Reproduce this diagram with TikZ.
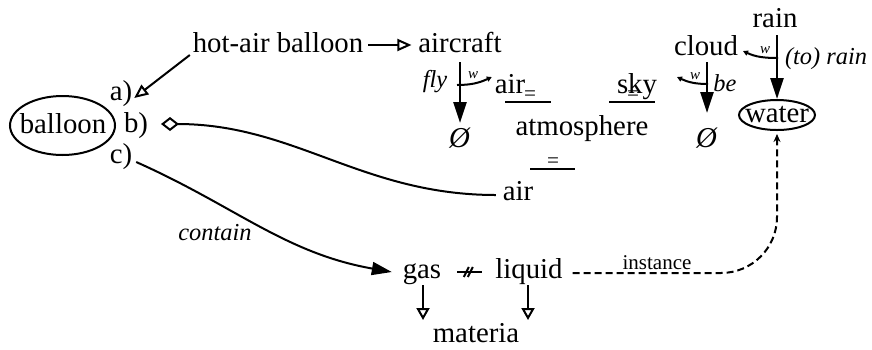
\documentclass[tikz,border=0pt]{standalone}
\usepackage{fontspec}
\setmainfont{Liberation Serif}
\usetikzlibrary{arrows.meta,calc,shapes.geometric}
\begin{document}
\begin{tikzpicture}[x=0.5pt,y=-0.5pt, line width=1pt,
  lbl/.style={font=\fontsize{14.4}{16}\selectfont, inner sep=0pt, anchor=base},
  ital/.style={font=\fontsize{12.2}{14}\selectfont\itshape, inner sep=0pt, anchor=base},
  wlbl/.style={font=\fontsize{7.5}{9}\selectfont\itshape, inner sep=0pt, anchor=base},
  eqlbl/.style={font=\fontsize{10.6}{12}\selectfont, inner sep=0pt, anchor=base},
  smalltxt/.style={font=\fontsize{10.5}{12}\selectfont, inner sep=0pt, anchor=base},
  ring/.style={draw, ellipse, inner sep=0pt},
  openhead/.style={-{Triangle[open,length=7pt,width=6pt]}},
  openheaddown/.style={-{Triangle[open,length=6pt,width=6.5pt]}},
  bighead/.style={line width=1.3pt, -{Triangle[length=10.5pt,width=6.5pt]}},
  smallhead/.style={-{Triangle[length=2.5pt,width=2.6pt]}},
  dashline/.style={dash pattern=on 3.5pt off 2pt},
]
\useasboundingbox (0,0) rectangle (872,349);

% main terms
\node[lbl] (hab) at (278,52) {hot-air balloon};
\node[lbl] (aircraft) at (460,52) {aircraft};
\node[lbl] (a) at (121,100) {a)};
\node[lbl] (b) at (136,132) {b)};
\node[lbl] (c) at (121,163) {c)};
\node[lbl] (balloon) at (63,133) {balloon};
\node[ring, minimum width=52.5pt, minimum height=29.5pt] (balloonE) at ($(balloon.base)+(-0.5,-7.5)$) {};
\node[lbl] (airup) at (510,93) {air};
\node[lbl] (sky) at (637,93) {sky};
\node[lbl] (atm) at (582,135) {atmosphere};
\node[lbl] (airlow) at (518,200) {air};
\node[lbl] (emptyL) at (460,147) {\textit{Ø}};
\node[lbl] (emptyR) at (707,147) {\textit{Ø}};
\node[lbl] (cloud) at (706,55) {cloud};
\node[lbl] (rain) at (775,27) {rain};
\node[lbl] (water) at (777,122) {water};
\node[ring, minimum width=38pt, minimum height=15pt] (waterE) at ($(water.base)+(0,-7)$) {};
\node[lbl] (gas) at (422,278) {gas};
\node[lbl] (liquid) at (529,278) {liquid};
\node[lbl] (materia) at (476,342) {materia};

% labels
\node[ital] (fly) at (435,87) {fly};
\node[ital] (be) at (725,91) {be};
\node[ital] (torain) at (826,64) {(to) rain};
\node[ital] (contain) at (215,240) {contain};
\node[smalltxt] (inst) at (657,269) {instance};
\node[wlbl] (w1) at (473,78) {w};
\node[wlbl] (w2) at (695,79) {w};
\node[wlbl] (w3) at (765,53) {w};

% equality bars
\coordinate (e1a) at (505,102); \coordinate (e1b) at (551,102);
\coordinate (e2a) at (609,102); \coordinate (e2b) at (655,102);
\coordinate (e3a) at (530,169); \coordinate (e3b) at (575,169);
\draw (e1a) -- (e1b);
\draw (e2a) -- (e2b);
\draw (e3a) -- (e3b);
\node[eqlbl] (eq1) at (530,100) {=};
\node[eqlbl] (eq2) at (633,100) {=};
\node[eqlbl] (eq3) at (553,167) {=};

% connectors
\draw[openhead] ($(hab.base east)+(4,-7)$) -- ($(aircraft.base west)+(-6,-7)$);
\draw[openhead] ($(hab.base west)+(-2,3)$) -- ($(a.base east)+(1,-2)$);
\draw[{Diamond[open,length=9pt,width=7pt]}-] ($(b.base east)+(12,-8)$) to[out=0,in=180] ($(airlow.base west)+(-6,-5)$);
\draw[-{Triangle[length=10pt,width=6.5pt]}] ($(c.base east)+(3,-1)$) to[out=-24,in=170] ($(gas.base west)+(-10,-6)$);

\draw[bighead] ($(aircraft.base)+(0,10)$) -- ($(emptyL.base)+(0,-24)$);
\coordinate (h1) at (457,85);
\draw[smallhead] (h1) to[out=0,in=205] ($(airup.base west)+(-2,-16)$);

\draw[bighead] ($(cloud.base)+(1,7)$) -- ($(emptyR.base)+(0,-34)$);
\coordinate (h2) at (708,84);
\draw[smallhead] (h2) to[out=180,in=-25] ($(sky.base east)+(19,-16)$);

\draw[bighead] ($(rain.base)+(2,8)$) -- (waterE.north);
\coordinate (h3) at (778,58);
\draw[smallhead] (h3) to[out=180,in=-25] ($(cloud.base east)+(4,-4)$);

% gas / liquid
\draw ($(gas.base east)+(15,-6)$) -- coordinate (nm) ($(liquid.base west)+(-12,-6)$);
\draw ($(nm)+(-6,5)$) -- ($(nm)+(-1,-5)$) ($(nm)+(-2,5)$) -- ($(nm)+(3,-5)$);
\draw[openheaddown] ($(gas.base)+(1,7)$) -- ($(gas.base |- materia.base)+(1,-22)$);
\draw[openheaddown] ($(liquid.base)+(-1,7)$) -- ($(liquid.base |- materia.base)+(-1,-22)$);

\draw[dashline, rounded corners=28pt, -{Stealth[length=4pt,width=3.5pt]}, shorten >=1.5pt]
  ($(liquid.base east)+(9,-5)$) -- ($(liquid.base east -| waterE.south)+(0,-5)$) -- (waterE.south);
\end{tikzpicture}
\end{document}
